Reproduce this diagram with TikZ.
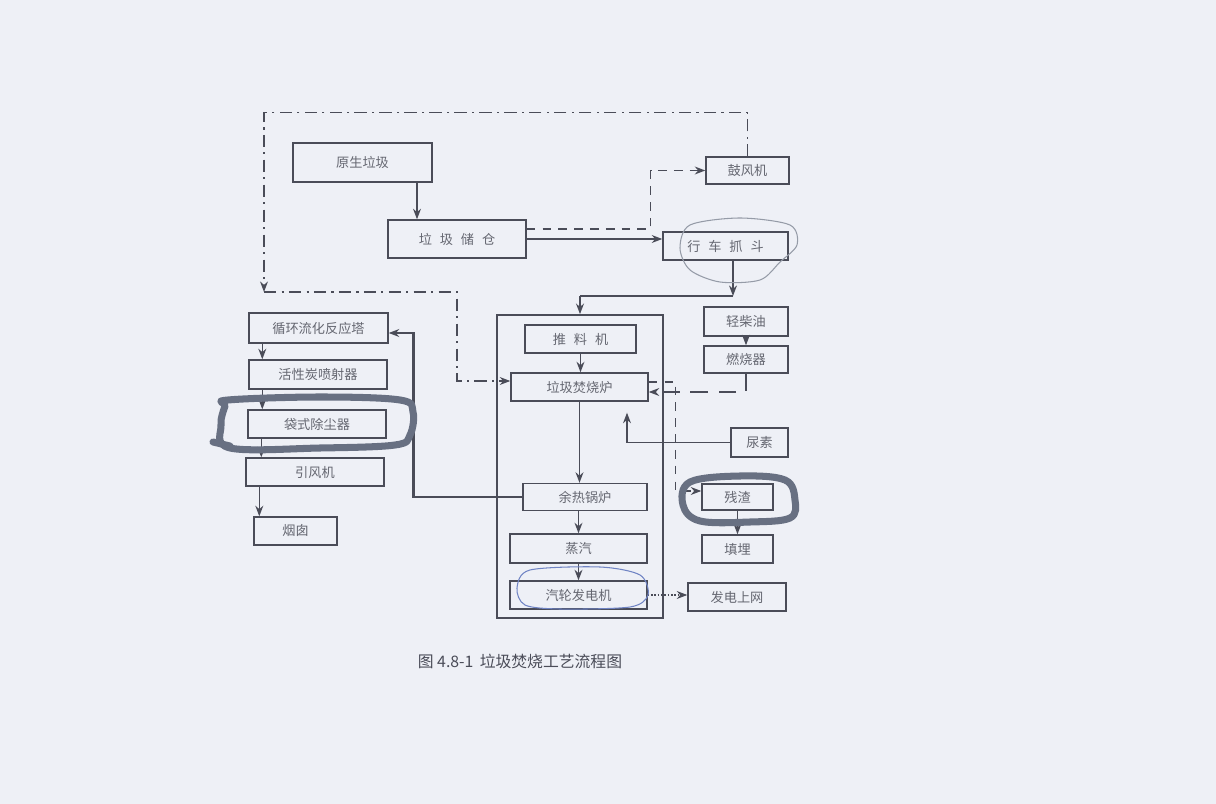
\documentclass[tikz,border=0pt]{standalone}
\usepackage{fontspec}
\usetikzlibrary{arrows.meta}
\setmainfont{Noto Sans CJK SC}
\definecolor{ink}{RGB}{74,76,88}
\definecolor{paper}{RGB}{238,240,246}
\definecolor{marker}{RGB}{104,112,130}
\definecolor{pen}{RGB}{112,132,196}
\newcommand{\gap}{\hspace{0.6em}}

\begin{document}
\begin{tikzpicture}[>={Stealth[length=6pt,width=4.5pt]},
  box/.style={draw=ink, line width=0.8pt, inner sep=0pt, text=ink!85, font=\fontsize{7.5}{9}\selectfont},
  flow/.style={draw=ink, line width=0.9pt},
  dashline/.style={dash pattern=on 5pt off 4pt},
  dotline/.style={dash pattern=on 7pt off 3pt on 1.2pt off 3pt},
  loop/.style={draw=marker, line width=4pt, line cap=round, line join=round},
  ring/.style={draw=pen, line width=0.6pt}]
\fill[paper] (0,0) rectangle (24.32,-16.08);
\useasboundingbox (0,0) rectangle (24.32,-16.08);

% feed side
\node[box, minimum width=2.78cm, minimum height=0.78cm] (raw) at (7.25,-3.25) {原生垃圾};
\node[box, minimum width=2.76cm, minimum height=0.76cm] (pit) at (9.14,-4.78) {垃\gap 圾\gap 储\gap 仓};
\node[box, minimum width=1.66cm, minimum height=0.54cm] (fan) at (14.95,-3.41) {鼓风机};
\node[box, minimum width=2.50cm, minimum height=0.56cm] (crane) at (14.51,-4.92) {行\gap 车\gap 抓\gap 斗};

% flue gas line
\node[box, minimum width=2.78cm, minimum height=0.60cm] (tower) at (6.37,-6.56) {循环流化反应塔};
\node[box, minimum width=2.76cm, minimum height=0.58cm] (carbon) at (6.36,-7.49) {活性炭喷射器};
\node[box, minimum width=2.76cm, minimum height=0.56cm] (bag) at (6.34,-8.48) {袋式除尘器};
\node[box, minimum width=2.76cm, minimum height=0.56cm] (idf) at (6.30,-9.44) {引风机};
\node[box, minimum width=1.66cm, minimum height=0.56cm] (stack) at (5.91,-10.62) {烟囱};

% plant
\node[draw=ink, line width=1pt, minimum width=3.32cm, minimum height=6.06cm] (plant) at (11.60,-9.33) {};
\node[box, minimum width=2.22cm, minimum height=0.56cm] (pusher) at (11.61,-6.78) {推\gap 料\gap 机};
\node[box, minimum width=2.74cm, minimum height=0.56cm] (furnace) at (11.59,-7.74) {垃圾焚烧炉};
\node[box, minimum width=2.48cm, minimum height=0.54cm] (boiler) at (11.70,-9.94) {余热锅炉};
\node[box, minimum width=2.74cm, minimum height=0.58cm] (steam) at (11.57,-10.97) {蒸汽};
\node[box, minimum width=2.74cm, minimum height=0.56cm] (turbine) at (11.57,-11.90) {汽轮发电机};

% right side
\node[box, minimum width=1.68cm, minimum height=0.58cm] (oil) at (14.92,-6.43) {轻柴油};
\node[box, minimum width=1.68cm, minimum height=0.54cm] (burner) at (14.92,-7.19) {燃烧器};
\node[box, minimum width=1.14cm, minimum height=0.58cm] (urea) at (15.19,-8.85) {尿素};
\node[box, minimum width=1.42cm, minimum height=0.52cm] (slag) at (14.75,-9.94) {残渣};
\node[box, minimum width=1.42cm, minimum height=0.56cm] (landfill) at (14.75,-10.98) {填埋};
\node[box, minimum width=1.96cm, minimum height=0.56cm] (grid) at (14.74,-11.94) {发电上网};

\node[text=ink, font=\fontsize{9}{11}\selectfont] (title) at (10.40,-13.22) {图 4.8-1\hspace{0.4em}垃圾焚烧工艺流程图};

\coordinate (air) at (5.28,-5.84);
\coordinate (feed) at (14.66,-5.92);

\draw[flow, ->] ([xshift=1.09cm]raw.south) -- ([xshift=1.09cm]raw.south |- pit.north);
\draw[flow, ->] (pit.east) -- (pit.east -| crane.west);
\draw[flow, dashline, ->] ([yshift=0.2cm]pit.east) -- ++(2.48,0) |- (fan.west);
\draw[flow, dotline, line width=0.7pt, ->] (fan.north) -- ++(0,0.87) -| (air);
\draw[flow, dotline, line width=0.7pt, ->] (air) -- ++(3.86,0) |- ([yshift=0.12cm]furnace.west);
\draw[flow, ->] ([xshift=0.15cm]crane.south) -- (feed);
\draw[flow] (feed) -- (feed -| plant.north);
\draw[flow, ->] (feed -| plant.north) -- (plant.north);
\draw[flow, ->] (pusher.south) -- (pusher.south |- furnace.north);
\draw[flow, ->] (furnace.south) -- (furnace.south |- boiler.north);
\draw[flow, ->] (steam.north |- boiler.south) -- (steam.north);
\draw[flow, ->] (steam.south) -- (turbine.north);
\draw[flow, densely dotted, line width=0.6pt, ->] (turbine.east) -- (turbine.east -| grid.west);
\draw[flow, line width=1.6pt, ->] (boiler.west) -- ++(-2.18,0) |- ([yshift=-0.1cm]tower.east);
\draw[flow, ->] ([xshift=0.28cm]tower.south west) -- ([xshift=0.28cm]tower.south west |- carbon.north west);
\draw[flow, ->] ([xshift=0.28cm]carbon.south west) -- ([xshift=0.28cm]carbon.south west |- bag.north west);
\draw[flow, ->] ([xshift=0.28cm]bag.south west) -- ([xshift=0.28cm]bag.south west |- idf.north west);
\draw[flow, ->] ([xshift=0.28cm]idf.south west) -- ([xshift=0.28cm]idf.south west |- stack.north west);
\draw[flow, ->] (oil.south -| burner.south) -- (burner.north);
\draw[flow, dash pattern=on 10pt off 6pt, line width=1.6pt, ->] (burner.south) |- ([yshift=-0.1cm]furnace.east);
\draw[flow, ->] (urea.west) -| ([xshift=0.95cm,yshift=-0.22cm]furnace.south);
\draw[flow, dashline, line width=0.6pt, ->] ([yshift=0.1cm]furnace.east) -- ++(0.54,0) |- ([yshift=0.12cm]slag.west);
\draw[flow, ->] (slag.south) -- (landfill.north);

% marks on the page
\draw[loop] plot[smooth cycle, tension=0.6] coordinates {(4.56,-8.00) (6.40,-7.94) (8.00,-8.00) (8.26,-8.24) (8.20,-8.70) (7.90,-8.90) (6.40,-8.96) (4.60,-8.96) (4.42,-8.50) (4.50,-8.12)};
\draw[loop] (4.60,-8.92) -- (4.26,-8.84);
\draw[loop] plot[smooth cycle, tension=0.6] coordinates {(13.80,-9.64) (14.80,-9.52) (15.70,-9.60) (15.90,-10.00) (15.80,-10.36) (15.00,-10.44) (14.00,-10.42) (13.66,-10.10)};
\draw[ring, draw=marker!70] plot[smooth cycle] coordinates {(13.80,-4.50) (14.80,-4.36) (15.80,-4.50) (15.94,-4.90) (15.60,-5.24) (15.20,-5.60) (14.40,-5.64) (13.80,-5.40) (13.60,-4.96)};
\draw[ring] plot[smooth cycle] coordinates {(10.60,-11.40) (12.00,-11.34) (12.80,-11.50) (12.96,-11.90) (12.60,-12.14) (11.20,-12.18) (10.50,-12.10) (10.34,-11.76)};
\end{tikzpicture}
\end{document}
